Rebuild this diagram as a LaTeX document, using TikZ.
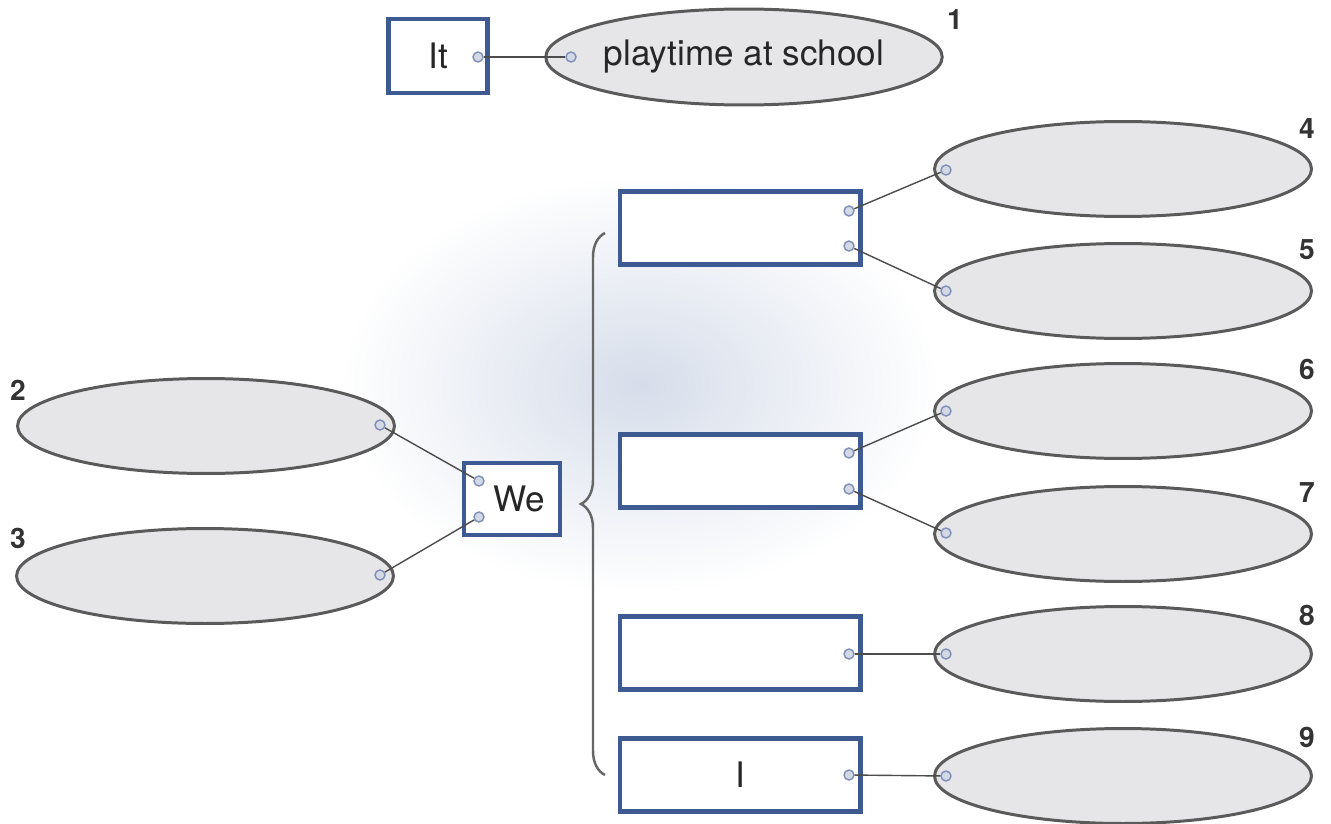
\documentclass[tikz,border=0pt]{standalone}
\usepackage{fontspec}
\setmainfont{TeX Gyre Heros}
\usetikzlibrary{shapes.geometric,decorations.pathreplacing}

\definecolor{boxblue}{HTML}{3D5A92}
\definecolor{rimgray}{HTML}{5A5A5A}
\definecolor{bubblegray}{HTML}{E6E6E8}
\definecolor{dotblue}{HTML}{7F8FB8}
\definecolor{dotfill}{HTML}{D3D8E6}
\definecolor{glowblue}{HTML}{D6DDEA}

\tikzset{
  wordbox/.style={draw=boxblue, line width=2.3pt, fill=white, inner sep=0pt,
    font=\fontsize{20}{24}\selectfont, text=black!85},
  bubble/.style={ellipse, draw=rimgray, line width=1.7pt, fill=bubblegray, inner sep=0pt,
    minimum width=7.54cm, minimum height=1.9cm, font=\fontsize{20}{24}\selectfont, text=black!85},
  dot/.style={circle, draw=dotblue, line width=0.8pt, fill=dotfill, inner sep=0pt, minimum size=0.2cm},
  link/.style={draw=black!70, line width=0.8pt},
  num/.style={font=\bfseries\fontsize{16}{18}\selectfont, text=black!80}
}

\begin{document}
\begin{tikzpicture}[x=0.02cm,y=-0.02cm]
        \useasboundingbox (0,0) rectangle (1331,824);
        \shade[inner color=glowblue, outer color=white] (640,385) ellipse [x radius=6cm, y radius=4.2cm];

        % top row
        \node[wordbox, minimum width=1.98cm, minimum height=1.48cm] (it) at (438,56) {It};
        \node[bubble, minimum width=7.9cm, minimum height=1.92cm] (e1) at (744,57) {playtime at school};
        \node[num] at (955,20) {1};

        % left side
        \node[bubble] (e2) at (206,426) {};
        \node[bubble] (e3) at (205,576) {};
        \node[num] at (18,390) {2};
        \node[num] at (18,538) {3};
        \node[wordbox, minimum width=1.92cm, minimum height=1.44cm] (we) at (512,499) {\hspace*{0.28cm}We};

        % right side
        \node[wordbox, minimum width=4.82cm, minimum height=1.46cm] (b1) at (740,228) {};
        \node[wordbox, minimum width=4.82cm, minimum height=1.46cm] (b2) at (740,471) {};
        \node[wordbox, minimum width=4.82cm, minimum height=1.46cm] (b3) at (740,653) {};
        \node[wordbox, minimum width=4.82cm, minimum height=1.46cm] (b4) at (740,775) {I};

        \node[bubble] (e4) at (1123,169) {};
        \node[bubble] (e5) at (1123,291) {};
        \node[bubble] (e6) at (1123,411) {};
        \node[bubble] (e7) at (1123,534) {};
        \node[bubble] (e8) at (1123,654) {};
        \node[bubble] (e9) at (1123,776) {};
        \node[num] at (1307,129) {4};
        \node[num] at (1307,250) {5};
        \node[num] at (1307,369) {6};
        \node[num] at (1307,493) {7};
        \node[num] at (1307,615) {8};
        \node[num] at (1307,737) {9};

        % brace
        \draw[decorate, decoration={brace, amplitude=0.48cm}, draw=black!60, line width=1.4pt]
            (605,775) -- (605,233);

        % dots
        \node[dot] (it-r) at (478,57) {};
        \node[dot] (e1-l) at (571,57) {};
        \node[dot] (e2-r) at (380,425) {};
        \node[dot] (e3-r) at (380,575) {};
        \node[dot] (we-a) at (479,481) {};
        \node[dot] (we-b) at (479,517) {};
        \node[dot] (b1-a) at (849,211) {};
        \node[dot] (b1-b) at (849,246) {};
        \node[dot] (b2-a) at (849,453) {};
        \node[dot] (b2-b) at (849,489) {};
        \node[dot] (b3-a) at (849,654) {};
        \node[dot] (b4-a) at (849,775) {};
        \node[dot] (e4-l) at (946,170) {};
        \node[dot] (e5-l) at (946,291) {};
        \node[dot] (e6-l) at (946,411) {};
        \node[dot] (e7-l) at (946,533) {};
        \node[dot] (e8-l) at (946,654) {};
        \node[dot] (e9-l) at (946,776) {};

        % links
        \draw[link] (it-r) -- (e1-l);
        \draw[link] (e2-r) -- (we-a);
        \draw[link] (e3-r) -- (we-b);
        \draw[link] (b1-a) -- (e4-l);
        \draw[link] (b1-b) -- (e5-l);
        \draw[link] (b2-a) -- (e6-l);
        \draw[link] (b2-b) -- (e7-l);
        \draw[link] (b3-a) -- (e8-l);
        \draw[link] (b4-a) -- (e9-l);
    \end{tikzpicture}
\end{document}
